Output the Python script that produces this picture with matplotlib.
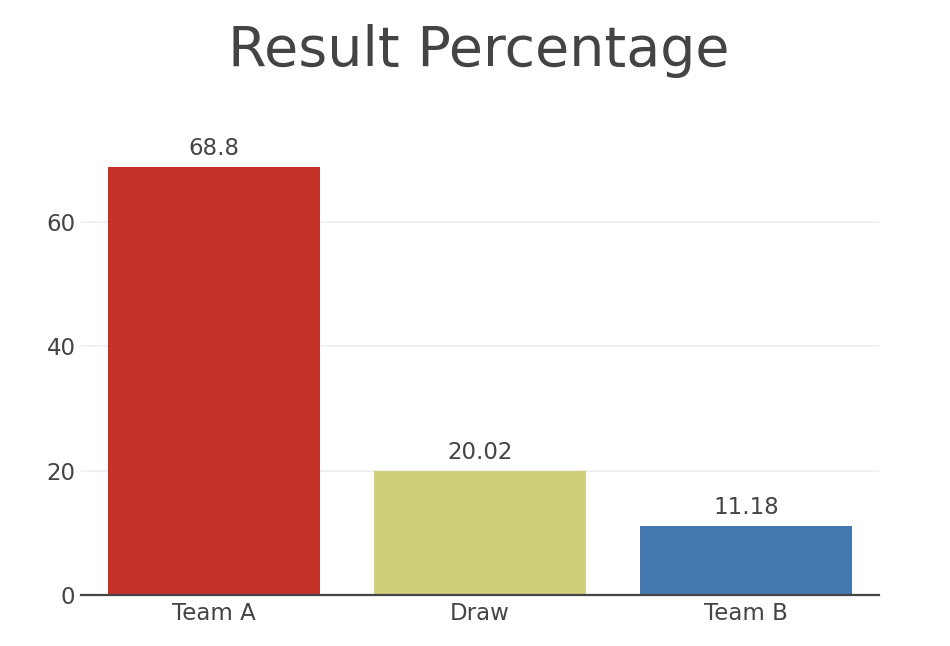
import matplotlib.pyplot as plt

categories = ["Team A", "Draw", "Team B"]
values = [68.8, 20.02, 11.18]
value_labels = ["68.8", "20.02", "11.18"]
colors = ["#C33129", "#CFCF7B", "#4277AF"]
yticks = [0, 20, 40, 60]

fig = plt.figure(figsize=(9.5, 6.46), dpi=100)
ax = fig.add_axes([81 / 950, 51 / 646, 798 / 950, 450 / 646])

x = range(len(categories))
bars = ax.bar(x, values, width=0.8, color=colors, zorder=3)

for b, lab in zip(bars, value_labels):
    ax.annotate(lab, (b.get_x() + b.get_width() / 2, b.get_height()),
                xytext=(0, 5), textcoords="offset points",
                ha="center", va="bottom", fontsize=16.5, color="#444444")

ax.set_xlim(-0.5, 2.5)
ax.set_ylim(0, 72.4)
ax.set_xticks(list(x))
ax.set_xticklabels(categories)
ax.set_yticks(yticks)
ax.tick_params(axis="both", length=0, labelsize=16.5, colors="#444444")
ax.tick_params(axis="x", pad=5)
ax.tick_params(axis="y", pad=4)

ax.grid(axis="y", color="#eeeeee", linewidth=1.2, zorder=0)
for side in ["top", "right", "left"]:
    ax.spines[side].set_visible(False)
ax.spines["bottom"].set_color("#444444")
ax.spines["bottom"].set_linewidth(1.6)
ax.spines["bottom"].set_zorder(4)

fig.text(479 / 950, 1 - 66 / 646, "Result Percentage", ha="center",
         va="baseline", fontsize=40, color="#444444")

fig.savefig("out.png", dpi=100, facecolor="white")
